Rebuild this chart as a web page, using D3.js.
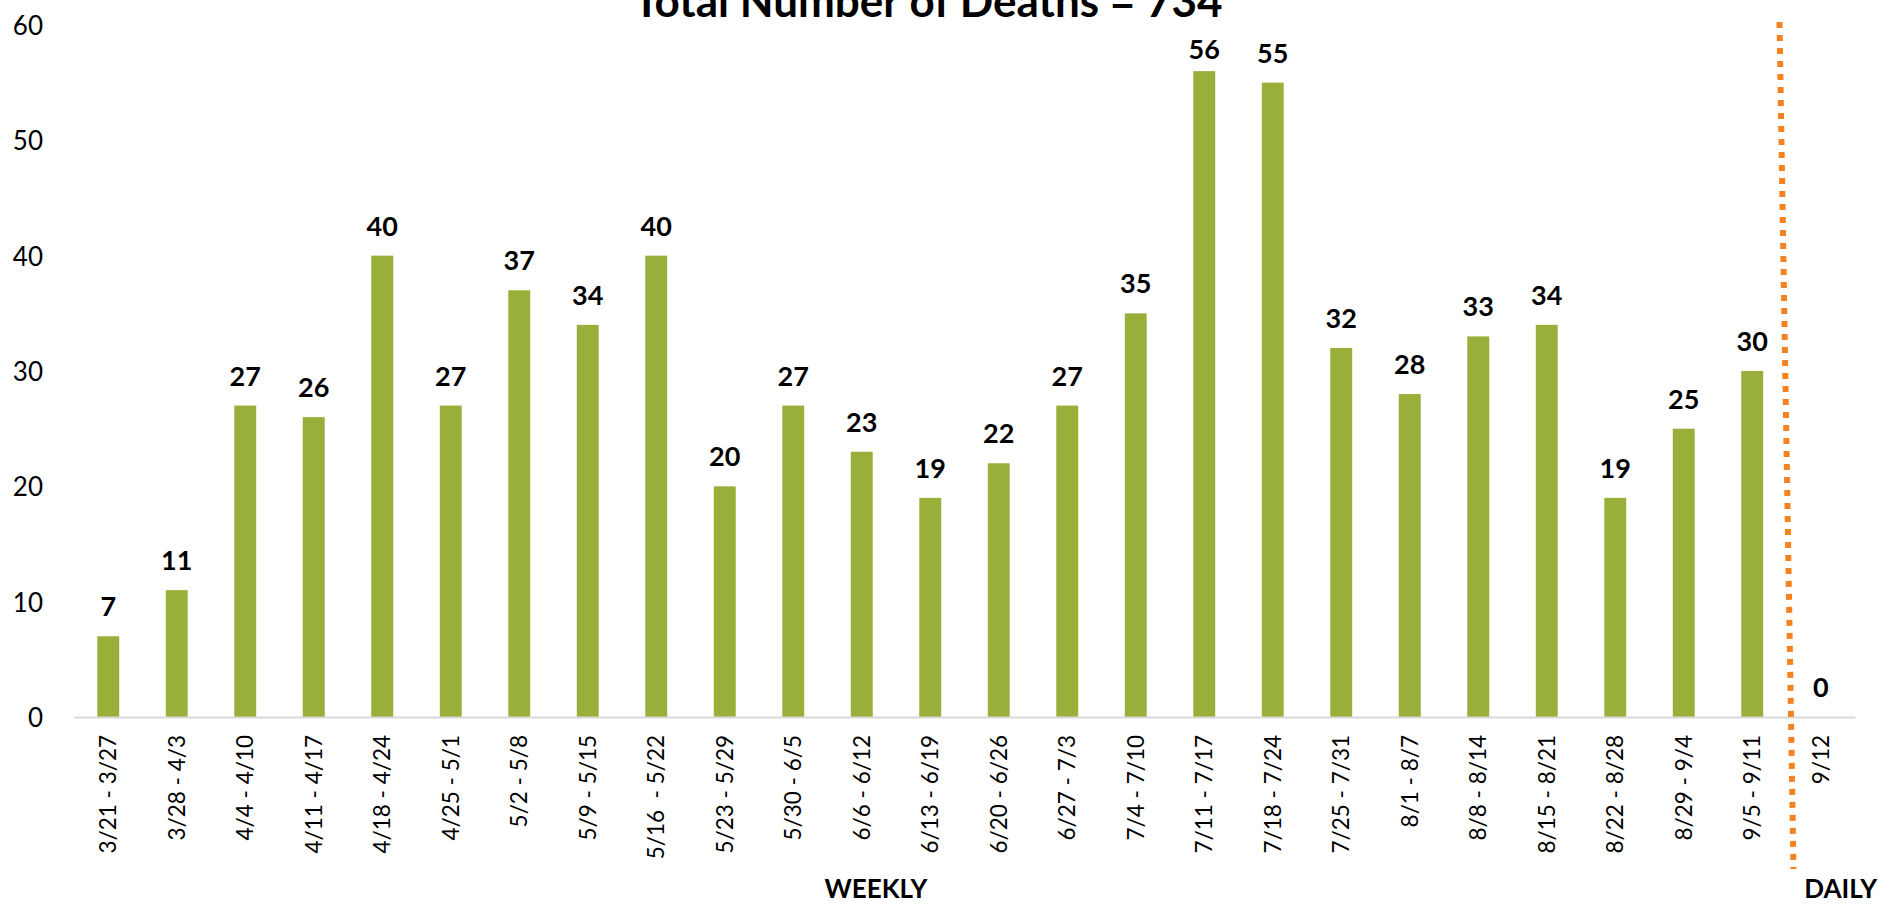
<!DOCTYPE html>
<html>
<head>
<meta charset="utf-8">
<script src="https://cdn.jsdelivr.net/npm/d3@7"></script>
<style>
  html, body { margin: 0; padding: 0; background: #fff; }
  svg { display: block; font-family: Lato, "Open Sans", sans-serif; }
</style>
</head>
<body>
<div id="chart"></div>
<script>
// categories (weeks + one daily point) and their death counts
const weeks = ["3/21 - 3/27", "3/28 - 4/3", "4/4 - 4/10", "4/11 - 4/17", "4/18 - 4/24",
  "4/25 - 5/1", "5/2 - 5/8", "5/9 - 5/15", "5/16  - 5/22", "5/23 - 5/29", "5/30 - 6/5",
  "6/6 - 6/12", "6/13 - 6/19", "6/20 - 6/26", "6/27 - 7/3", "7/4 - 7/10", "7/11 - 7/17",
  "7/18 - 7/24", "7/25 - 7/31", "8/1 - 8/7", "8/8 - 8/14", "8/15 - 8/21", "8/22 - 8/28",
  "8/29 - 9/4", "9/5 - 9/11", "9/12"];
const deaths = [7, 11, 27, 26, 40, 27, 37, 34, 40, 20, 27, 23, 19, 22, 27, 35, 56, 55, 32,
  28, 33, 34, 19, 25, 30, 0];
const yTicks = [0, 10, 20, 30, 40, 50, 60];
const title = "Total Number of Deaths = 734";

const width = 1898, height = 905;
const mLeft = 74, mRight = 1855, mTop = 25, mBottom = 717;

const data = weeks.map((w, i) => ({ week: w, value: deaths[i] }));

const x = d3.scaleBand()
  .domain(weeks)
  .range([mLeft, mRight])
  .paddingInner(0.68)
  .paddingOuter(0.34);

const y = d3.scaleLinear().domain([0, 60]).range([mBottom, mTop]);

const svg = d3.select("#chart").append("svg")
  .attr("width", width)
  .attr("height", height);

// title (top half is cut off in the source image)
svg.append("text")
  .attr("x", 928).attr("y", 17)
  .attr("text-anchor", "middle")
  .style("font-size", "44px").style("font-weight", "bold")
  .text(title);

// y axis labels, no line
const yAxis = svg.append("g")
  .attr("transform", "translate(" + (mLeft - 31) + ",0)")
  .call(d3.axisLeft(y).tickValues(yTicks).tickSize(0).tickPadding(0));
yAxis.select(".domain").remove();
yAxis.selectAll("text")
  .attr("dy", "0.36em")
  .style("font-size", "26px")
  .style("font-family", "Lato, sans-serif")
  .attr("fill", "#000");

// bars
svg.selectAll(".bar")
  .data(data)
  .enter().append("rect")
  .attr("class", "bar")
  .attr("x", d => x(d.week))
  .attr("y", d => y(d.value))
  .attr("width", x.bandwidth())
  .attr("height", d => mBottom - y(d.value))
  .attr("fill", "#98AF3A");

// value labels (kept inside the plot area near the top)
svg.selectAll(".lbl")
  .data(data)
  .enter().append("text")
  .attr("class", "lbl")
  .attr("x", d => x(d.week) + x.bandwidth() / 2)
  .attr("y", d => Math.max(y(d.value) - 20, mTop + 34))
  .attr("text-anchor", "middle")
  .style("font-size", "27px").style("font-weight", "bold")
  .text(d => d.value);

// x axis
const xAxis = svg.append("g")
  .attr("transform", "translate(0," + mBottom + ")")
  .call(d3.axisBottom(x).tickSize(0).tickPadding(0));
xAxis.select(".domain").attr("stroke", "#D9D9D9").attr("stroke-width", 2);
xAxis.selectAll("text")
  .attr("transform", "translate(0,18) rotate(-90)")
  .attr("text-anchor", "end")
  .attr("x", 0).attr("y", 0)
  .attr("dy", "0.35em")
  .style("font-size", "22.5px")
  .style("font-family", "Lato, sans-serif")
  .style("white-space", "pre")
  .attr("fill", "#000");

// weekly / daily separator
const sep = x(weeks[weeks.length - 1]) + x.bandwidth() / 2 - x.step() / 2;
svg.append("line")
  .attr("x1", sep - 7).attr("y1", y(60) - 3)
  .attr("x2", sep + 7).attr("y2", height - 36)
  .attr("stroke", "#F58220")
  .attr("stroke-width", 6)
  .attr("stroke-dasharray", "6 7");

// group captions
svg.append("text")
  .attr("x", 876).attr("y", 898)
  .attr("text-anchor", "middle")
  .style("font-size", "26px").style("font-weight", "bold")
  .text("WEEKLY");
svg.append("text")
  .attr("x", x(weeks[weeks.length - 1]) + x.bandwidth() / 2 + 20).attr("y", 898)
  .attr("text-anchor", "middle")
  .style("font-size", "26px").style("font-weight", "bold")
  .text("DAILY");
</script>
</body>
</html>
